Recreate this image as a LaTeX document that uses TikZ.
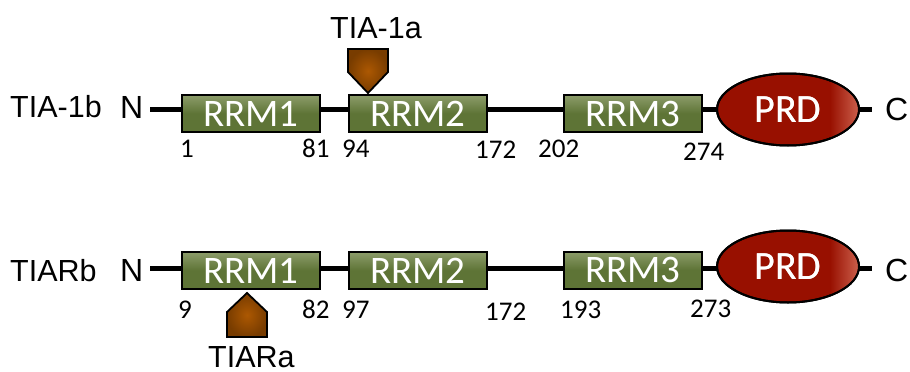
\documentclass[tikz,border=0pt]{standalone}
\usepackage{fontspec}
\setmainfont{Liberation Sans}
\newfontfamily\calibri{Carlito}
\usetikzlibrary{backgrounds,shapes.geometric}
\definecolor{boxgreen}{RGB}{94,116,54}
\definecolor{boxlight}{RGB}{140,156,106}
\definecolor{prdred}{RGB}{152,16,0}
\definecolor{prdlight}{RGB}{210,105,85}
\definecolor{brownfill}{RGB}{172,88,2}
\definecolor{browndark}{RGB}{120,60,0}
\begin{document}
\begin{tikzpicture}[x=1pt,y=-1pt,
  rrmbox/.style={draw=black, line width=2pt, top color=boxlight, bottom color=boxgreen,
    middle color=boxgreen, minimum width=138pt, minimum height=37pt, inner sep=0pt,
    text=white, font=\calibri\fontsize{39}{40}\selectfont},
  prdnode/.style={ellipse, draw=black, line width=2pt, fill=prdred, minimum width=142pt,
    minimum height=72pt, inner sep=0pt, text=white, font=\calibri\fontsize{40}{40}\selectfont},
  lbl/.style={anchor=base west, inner sep=0pt, font=\fontsize{30.5}{36}\selectfont},
  term/.style={anchor=base west, inner sep=0pt, font=\fontsize{32}{36}\selectfont},
  num/.style={anchor=base west, inner sep=0pt, font=\calibri\fontsize{27}{30}\selectfont},
  backbone/.style={line width=5pt, black},
  marker/.style={draw=black, line width=1.8pt, inner color=brownfill, outer color=browndark, line join=miter}
]
\useasboundingbox (0,0) rectangle (910,372);

% ---------- top row: TIA-1b ----------
\node[lbl] (name1) at (10,117) {TIA-1b};
\node[term] (n1) at (120,118) {N};
\node[term] (c1) at (885,120) {C};
\coordinate (b1s) at (150,109.5);
\coordinate (b1e) at (872,109.5);
\draw[backbone] (b1s) -- (b1e);
\node[rrmbox] (r11) at (251,113.5) {RRM1};
\node[rrmbox] (r12) at (418,113.5) {RRM2};
\node[rrmbox] (r13) at (633,113.5) {RRM3};
\node[prdnode] (p1) at (788,109.5) {PRD};
\begin{scope}
  \clip (p1.center) ellipse (70pt and 35pt);
  \shade[left color=prdred, right color=prdlight] (830,60) rectangle (862,160);
\end{scope}
\node[prdnode, fill=none] at (788,109.5) {PRD};
\node[num] (t1) at (180,157) {1};
\node[num] (t81) at (302,157) {81};
\node[num] (t94) at (342,157) {94};
\node[num] (t172) at (475,158) {172};
\node[num] (t202) at (538,157) {202};
\node[num] (t274) at (683,160) {274};
% TIA-1a marker
\draw[marker] (348,49) -- (388,49) -- (388,72) -- (368,93) -- (348,72) -- cycle;
\node[lbl] (tia1a) at (330,38) {TIA-1a};

% ---------- bottom row: TIARb ----------
\node[lbl] (name2) at (10,281) {TIARb};
\node[term] (n2) at (120,281) {N};
\node[term] (c2) at (885,281) {C};
\coordinate (b2s) at (150,268.5);
\coordinate (b2e) at (872,268.5);
\draw[backbone] (b2s) -- (b2e);
\node[rrmbox] (r21) at (251,270.5) {RRM1};
\node[rrmbox] (r22) at (418,270.5) {RRM2};
\node[rrmbox] (r23) at (633,270) {RRM3};
\node[prdnode] (p2) at (788,266.5) {PRD};
\begin{scope}
  \clip (p2.center) ellipse (70pt and 35pt);
  \shade[left color=prdred, right color=prdlight] (830,220) rectangle (862,320);
\end{scope}
\node[prdnode, fill=none] at (788,266.5) {PRD};
\node[num] (u9) at (178,318) {9};
\node[num] (u82) at (302,318) {82};
\node[num] (u97) at (342,318) {97};
\node[num] (u172) at (485,320) {172};
\node[num] (u193) at (560,318) {193};
\node[num] (u273) at (690,317) {273};
% TIARa marker
\draw[marker] (247,293) -- (267,312) -- (267,337) -- (227,337) -- (227,312) -- cycle;
\node[lbl] (tiara) at (208,367) {TIARa};
\end{tikzpicture}
\end{document}
